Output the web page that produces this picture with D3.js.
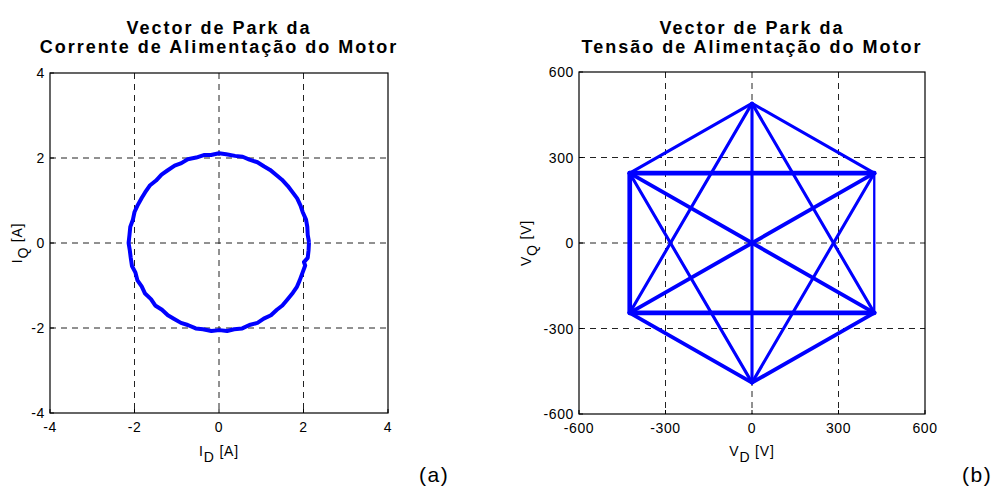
<!DOCTYPE html>
<html>
<head>
<meta charset="utf-8">
<script src="https://cdn.jsdelivr.net/npm/d3@7"></script>
<style>
  body { margin: 0; background: #fff; }
  svg { display: block; font-family: "Liberation Sans", Arial, sans-serif; }
  .tick-label { font-size: 14px; letter-spacing: 0.6px; fill: #000; }
  .title { font-size: 18px; font-weight: bold; letter-spacing: 2px; fill: #000; }
  .axis-label { font-size: 14px; letter-spacing: 0.8px; fill: #000; }
  .grid { stroke: #222; stroke-width: 1; stroke-dasharray: 6,5; }
  .box { fill: none; stroke: #000; stroke-width: 1.2; }
</style>
</head>
<body>
<div id="container"></div>
<script>
// ---------------------------- DATA ----------------------------//
var iTicks = [-4, -2, 0, 2, 4];
var vTicks = [-600, -300, 0, 300, 600];

// current Park vector (every ~5 deg)
var iD = [2.13, 2.10, 2.09, 2.06, 1.98, 1.93, 1.85, 1.73, 1.63, 1.49, 1.37, 1.21,
          1.07, 0.91, 0.72, 0.56, 0.38, 0.17, 0.00, -0.19, -0.36, -0.54, -0.74, -0.89,
          -1.05, -1.23, -1.36, -1.49, -1.63, -1.75, -1.83, -1.93, -2.00, -2.04, -2.10, -2.12,
          -2.14, -2.11, -2.09, -2.06, -1.98, -1.93, -1.83, -1.75, -1.61, -1.51, -1.35, -1.21,
          -1.07, -0.90, -0.74, -0.55, -0.38, -0.18, 0.01, 0.19, 0.36, 0.55, 0.72, 0.91,
          1.06, 1.23, 1.37, 1.50, 1.61, 1.75, 1.84, 1.91, 1.98, 2.04, 2.01, 2.10, 2.12, 2.13];
var iQ = [0.02, 0.19, 0.38, 0.55, 0.73, 0.88, 1.05, 1.21, 1.34, 1.49, 1.59, 1.72,
          1.80, 1.90, 1.96, 2.03, 2.05, 2.09, 2.11, 2.07, 2.07, 2.01, 1.97, 1.88,
          1.82, 1.70, 1.61, 1.47, 1.36, 1.19, 1.06, 0.88, 0.73, 0.54, 0.38, 0.18,
          0.00, -0.18, -0.34, -0.54, -0.69, -0.88, -1.02, -1.19, -1.32, -1.47, -1.57, -1.70,
          -1.78, -1.88, -1.93, -2.01, -2.03, -2.07, -2.05, -2.07, -2.03, -2.01, -1.93, -1.88,
          -1.78, -1.70, -1.57, -1.47, -1.34, -1.17, -1.04, -0.88, -0.69, -0.53, -0.45, -0.35, -0.17, 0.02];

// voltage Park vector: the six inverter states
var vD = [0, 424, 424, 0, -424, -424];
var vQ = [490, 245, -245, -490, -245, 245];
// transitions between states and how many times each is drawn over
var segFrom = [0, 0, 0, 0, 0, 1, 1, 1, 1, 2, 2, 2, 3, 3, 4];
var segTo   = [1, 2, 3, 4, 5, 2, 3, 4, 5, 3, 4, 5, 4, 5, 5];
var segPasses = [1, 1, 1, 1, 1, 0, 1, 2, 3, 2, 3, 2, 2, 1, 3];

// ---------------------------- SVG -----------------------------//
const width = 997;
const height = 486;
const svg = d3.select("div#container").append("svg")
    .attr("width", width)
    .attr("height", height);

const blue = "#0000ff";

function drawPanel(o) {
    const x = d3.scaleLinear().domain(o.domain).range([o.left, o.right]);
    const y = d3.scaleLinear().domain(o.domain).range([o.bottom, o.top]);
    const g = svg.append("g");

    // grid
    g.selectAll(".gx").data(o.ticks.slice(1, -1)).enter().append("line")
        .attr("class", "grid")
        .attr("x1", d => x(d)).attr("x2", d => x(d))
        .attr("y1", o.top).attr("y2", o.bottom);
    g.selectAll(".gy").data(o.ticks.slice(1, -1)).enter().append("line")
        .attr("class", "grid")
        .attr("y1", d => y(d)).attr("y2", d => y(d))
        .attr("x1", o.left).attr("x2", o.right);

    // box
    g.append("rect").attr("class", "box")
        .attr("x", o.left).attr("y", o.top)
        .attr("width", o.right - o.left).attr("height", o.bottom - o.top);

    // inward ticks
    g.selectAll(".tb").data(o.ticks).enter().append("line")
        .attr("x1", d => x(d)).attr("x2", d => x(d))
        .attr("y1", o.bottom).attr("y2", o.bottom - 4)
        .attr("stroke", "#000");
    g.selectAll(".tl").data(o.ticks).enter().append("line")
        .attr("y1", d => y(d)).attr("y2", d => y(d))
        .attr("x1", o.left).attr("x2", o.left + 4)
        .attr("stroke", "#000");

    // tick labels
    g.selectAll(".xl").data(o.ticks).enter().append("text")
        .attr("class", "tick-label")
        .attr("x", d => x(d)).attr("y", o.bottom + 19)
        .attr("text-anchor", "middle")
        .text(d => d);
    g.selectAll(".yl").data(o.ticks).enter().append("text")
        .attr("class", "tick-label")
        .attr("x", o.left - 5).attr("y", d => y(d) + 5)
        .attr("text-anchor", "end")
        .text(d => d);

    // titles
    const cx = (o.left + o.right) / 2;
    g.append("text").attr("class", "title")
        .attr("x", cx).attr("y", 34).attr("text-anchor", "middle")
        .text(o.title[0]);
    g.append("text").attr("class", "title")
        .attr("x", cx).attr("y", 53).attr("text-anchor", "middle")
        .text(o.title[1]);

    // x label with subscript
    const xl = g.append("text").attr("class", "axis-label")
        .attr("x", cx).attr("y", 456).attr("text-anchor", "middle");
    xl.append("tspan").text(o.sym);
    xl.append("tspan").attr("dy", 6).text("D");
    xl.append("tspan").attr("dy", -6).text(" " + o.unit);

    const yl = g.append("text").attr("class", "axis-label")
        .attr("transform", "translate(" + o.ylabelX + "," + (o.top + o.bottom) / 2 + ") rotate(-90)")
        .attr("text-anchor", "middle");
    yl.append("tspan").text(o.sym);
    yl.append("tspan").attr("dy", 6).text("Q");
    yl.append("tspan").attr("dy", -6).text(" " + o.unit);

    // panel letter
    g.append("text")
        .attr("x", o.letterX).attr("y", 482)
        .style("font-size", "21px")
        .style("letter-spacing", "1.5px")
        .text(o.letter);

    return {x: x, y: y, g: g};
}

// ----------------------- LEFT: current ------------------------//
const pa = drawPanel({
    left: 50, right: 388, top: 73, bottom: 413,
    domain: [-4, 4], ticks: iTicks,
    title: ["Vector de Park da", "Corrente de Alimentação do Motor"],
    sym: "I", unit: "[A]", ylabelX: 22,
    letter: "(a)", letterX: 419
});

const curPts = iD.map((d, i) => [d, iQ[i]]);
pa.g.append("path")
    .datum(curPts)
    .attr("fill", "none")
    .attr("stroke", blue)
    .attr("stroke-width", 4)
    .attr("stroke-linejoin", "round")
    .attr("d", d3.line().x(d => pa.x(d[0])).y(d => pa.y(d[1])));

// ----------------------- RIGHT: voltage -----------------------//
const pb = drawPanel({
    left: 579, right: 925, top: 72, bottom: 414,
    domain: [-600, 600], ticks: vTicks,
    title: ["Vector de Park da", "Tensão de Alimentação do Motor"],
    sym: "V", unit: "[V]", ylabelX: 531,
    letter: "(b)", letterX: 962
});

pb.g.selectAll(".seg").data(segFrom).enter().append("line")
    .attr("x1", (d, i) => pb.x(vD[d]))
    .attr("y1", (d, i) => pb.y(vQ[d]))
    .attr("x2", (d, i) => pb.x(vD[segTo[i]]))
    .attr("y2", (d, i) => pb.y(vQ[segTo[i]]))
    .attr("stroke", blue)
    .attr("stroke-linecap", "round")
    .attr("stroke-width", (d, i) => 2.3 + 0.8 * segPasses[i]);
</script>
</body>
</html>
